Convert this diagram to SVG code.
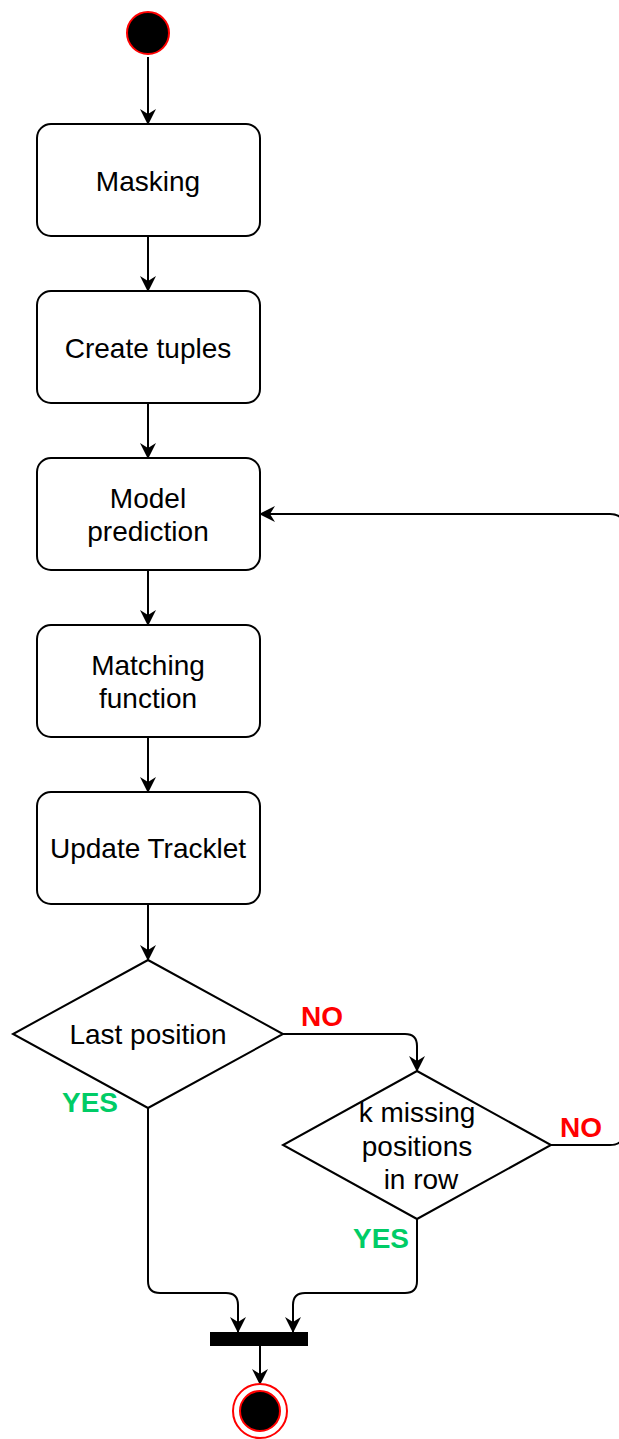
<svg xmlns="http://www.w3.org/2000/svg" width="619" height="1439" viewBox="0 0 619 1439">
  <defs>
    <style>
      .box { fill: #ffffff; stroke: #000000; stroke-width: 2; }
      .edge { fill: none; stroke: #000000; stroke-width: 2; }
      .lbl { font-family: "Liberation Sans", Arial, sans-serif; font-size: 28px; fill: #000000; text-anchor: middle; }
      .no { font-family: "Liberation Sans", Arial, sans-serif; font-size: 28px; font-weight: bold; fill: #ff0000; text-anchor: middle; }
      .yes { font-family: "Liberation Sans", Arial, sans-serif; font-size: 28px; font-weight: bold; fill: #00cc66; text-anchor: middle; }
    </style>
    <marker id="arrow" viewBox="0 0 16 16" refX="15" refY="8" markerWidth="16" markerHeight="16" markerUnits="userSpaceOnUse" orient="auto">
      <path d="M0,0 L16,8 L0,16 L5,8 Z" fill="#000000"/>
    </marker>
  </defs>
  <rect width="619" height="1439" fill="#ffffff"/>

  <g id="connectors">
    <line class="edge" x1="148" y1="57" x2="148" y2="124" marker-end="url(#arrow)"/>
    <line class="edge" x1="148" y1="236" x2="148" y2="291" marker-end="url(#arrow)"/>
    <line class="edge" x1="148" y1="403" x2="148" y2="458" marker-end="url(#arrow)"/>
    <line class="edge" x1="148" y1="570" x2="148" y2="625" marker-end="url(#arrow)"/>
    <line class="edge" x1="148" y1="737" x2="148" y2="792" marker-end="url(#arrow)"/>
    <line class="edge" x1="148" y1="904" x2="148" y2="960" marker-end="url(#arrow)"/>
    <!-- Last position: NO -->
    <path class="edge" d="M283,1034 L405,1034 Q417,1034 417,1046 L417,1071" marker-end="url(#arrow)"/>
    <!-- k missing: NO, loops back to Model prediction (runs past the right edge) -->
    <path class="edge" d="M551,1145 L610,1145 Q624,1145 624,1131 L624,528 Q624,514 610,514 L260,514" marker-end="url(#arrow)"/>
    <!-- Last position: YES -->
    <path class="edge" d="M148,1108 L148,1281 Q148,1293 160,1293 L226,1293 Q238,1293 238,1305 L238,1332" marker-end="url(#arrow)"/>
    <!-- k missing: YES -->
    <path class="edge" d="M417,1219 L417,1281 Q417,1293 405,1293 L305,1293 Q293,1293 293,1305 L293,1332" marker-end="url(#arrow)"/>
    <line class="edge" x1="260" y1="1346" x2="260" y2="1384" marker-end="url(#arrow)"/>
  </g>

  <g id="start">
    <circle cx="148" cy="33" r="21" fill="#000000" stroke="#ff0000" stroke-width="2"/>
  </g>

  <g id="masking">
    <rect class="box" x="37" y="124" width="223" height="112" rx="14"/>
    <text class="lbl" x="148" y="191">Masking</text>
  </g>
  <g id="create-tuples">
    <rect class="box" x="37" y="291" width="223" height="112" rx="14"/>
    <text class="lbl" x="148" y="358">Create tuples</text>
  </g>
  <g id="model-prediction">
    <rect class="box" x="37" y="458" width="223" height="112" rx="14"/>
    <text class="lbl" x="148" y="508">Model</text>
    <text class="lbl" x="148" y="541">prediction</text>
  </g>
  <g id="matching-function">
    <rect class="box" x="37" y="625" width="223" height="112" rx="14"/>
    <text class="lbl" x="148" y="675">Matching</text>
    <text class="lbl" x="148" y="708">function</text>
  </g>
  <g id="update-tracklet">
    <rect class="box" x="37" y="792" width="223" height="112" rx="14"/>
    <text class="lbl" x="148" y="858">Update Tracklet</text>
  </g>

  <g id="last-position">
    <polygon class="box" points="148,960 283,1034 148,1108 13,1034"/>
    <text class="lbl" x="148" y="1044">Last position</text>
  </g>
  <g id="k-missing">
    <polygon class="box" points="417,1071 551,1145 417,1219 283,1145"/>
    <text class="lbl" x="417" y="1122">k missing</text>
    <text class="lbl" x="417" y="1156">positions</text>
    <text class="lbl" x="421" y="1189">in row</text>
  </g>

  <g id="labels">
    <text class="no" x="322" y="1026">NO</text>
    <text class="yes" x="90" y="1112">YES</text>
    <text class="no" x="581" y="1137">NO</text>
    <text class="yes" x="381" y="1248">YES</text>
  </g>

  <g id="join-bar">
    <rect x="210" y="1332" width="98" height="14" fill="#000000"/>
  </g>

  <g id="end">
    <circle cx="260" cy="1411" r="27" fill="#ffffff" stroke="#ff0000" stroke-width="2"/>
    <circle cx="260" cy="1411" r="20" fill="#000000" stroke="#ff0000" stroke-width="2"/>
  </g>
</svg>
